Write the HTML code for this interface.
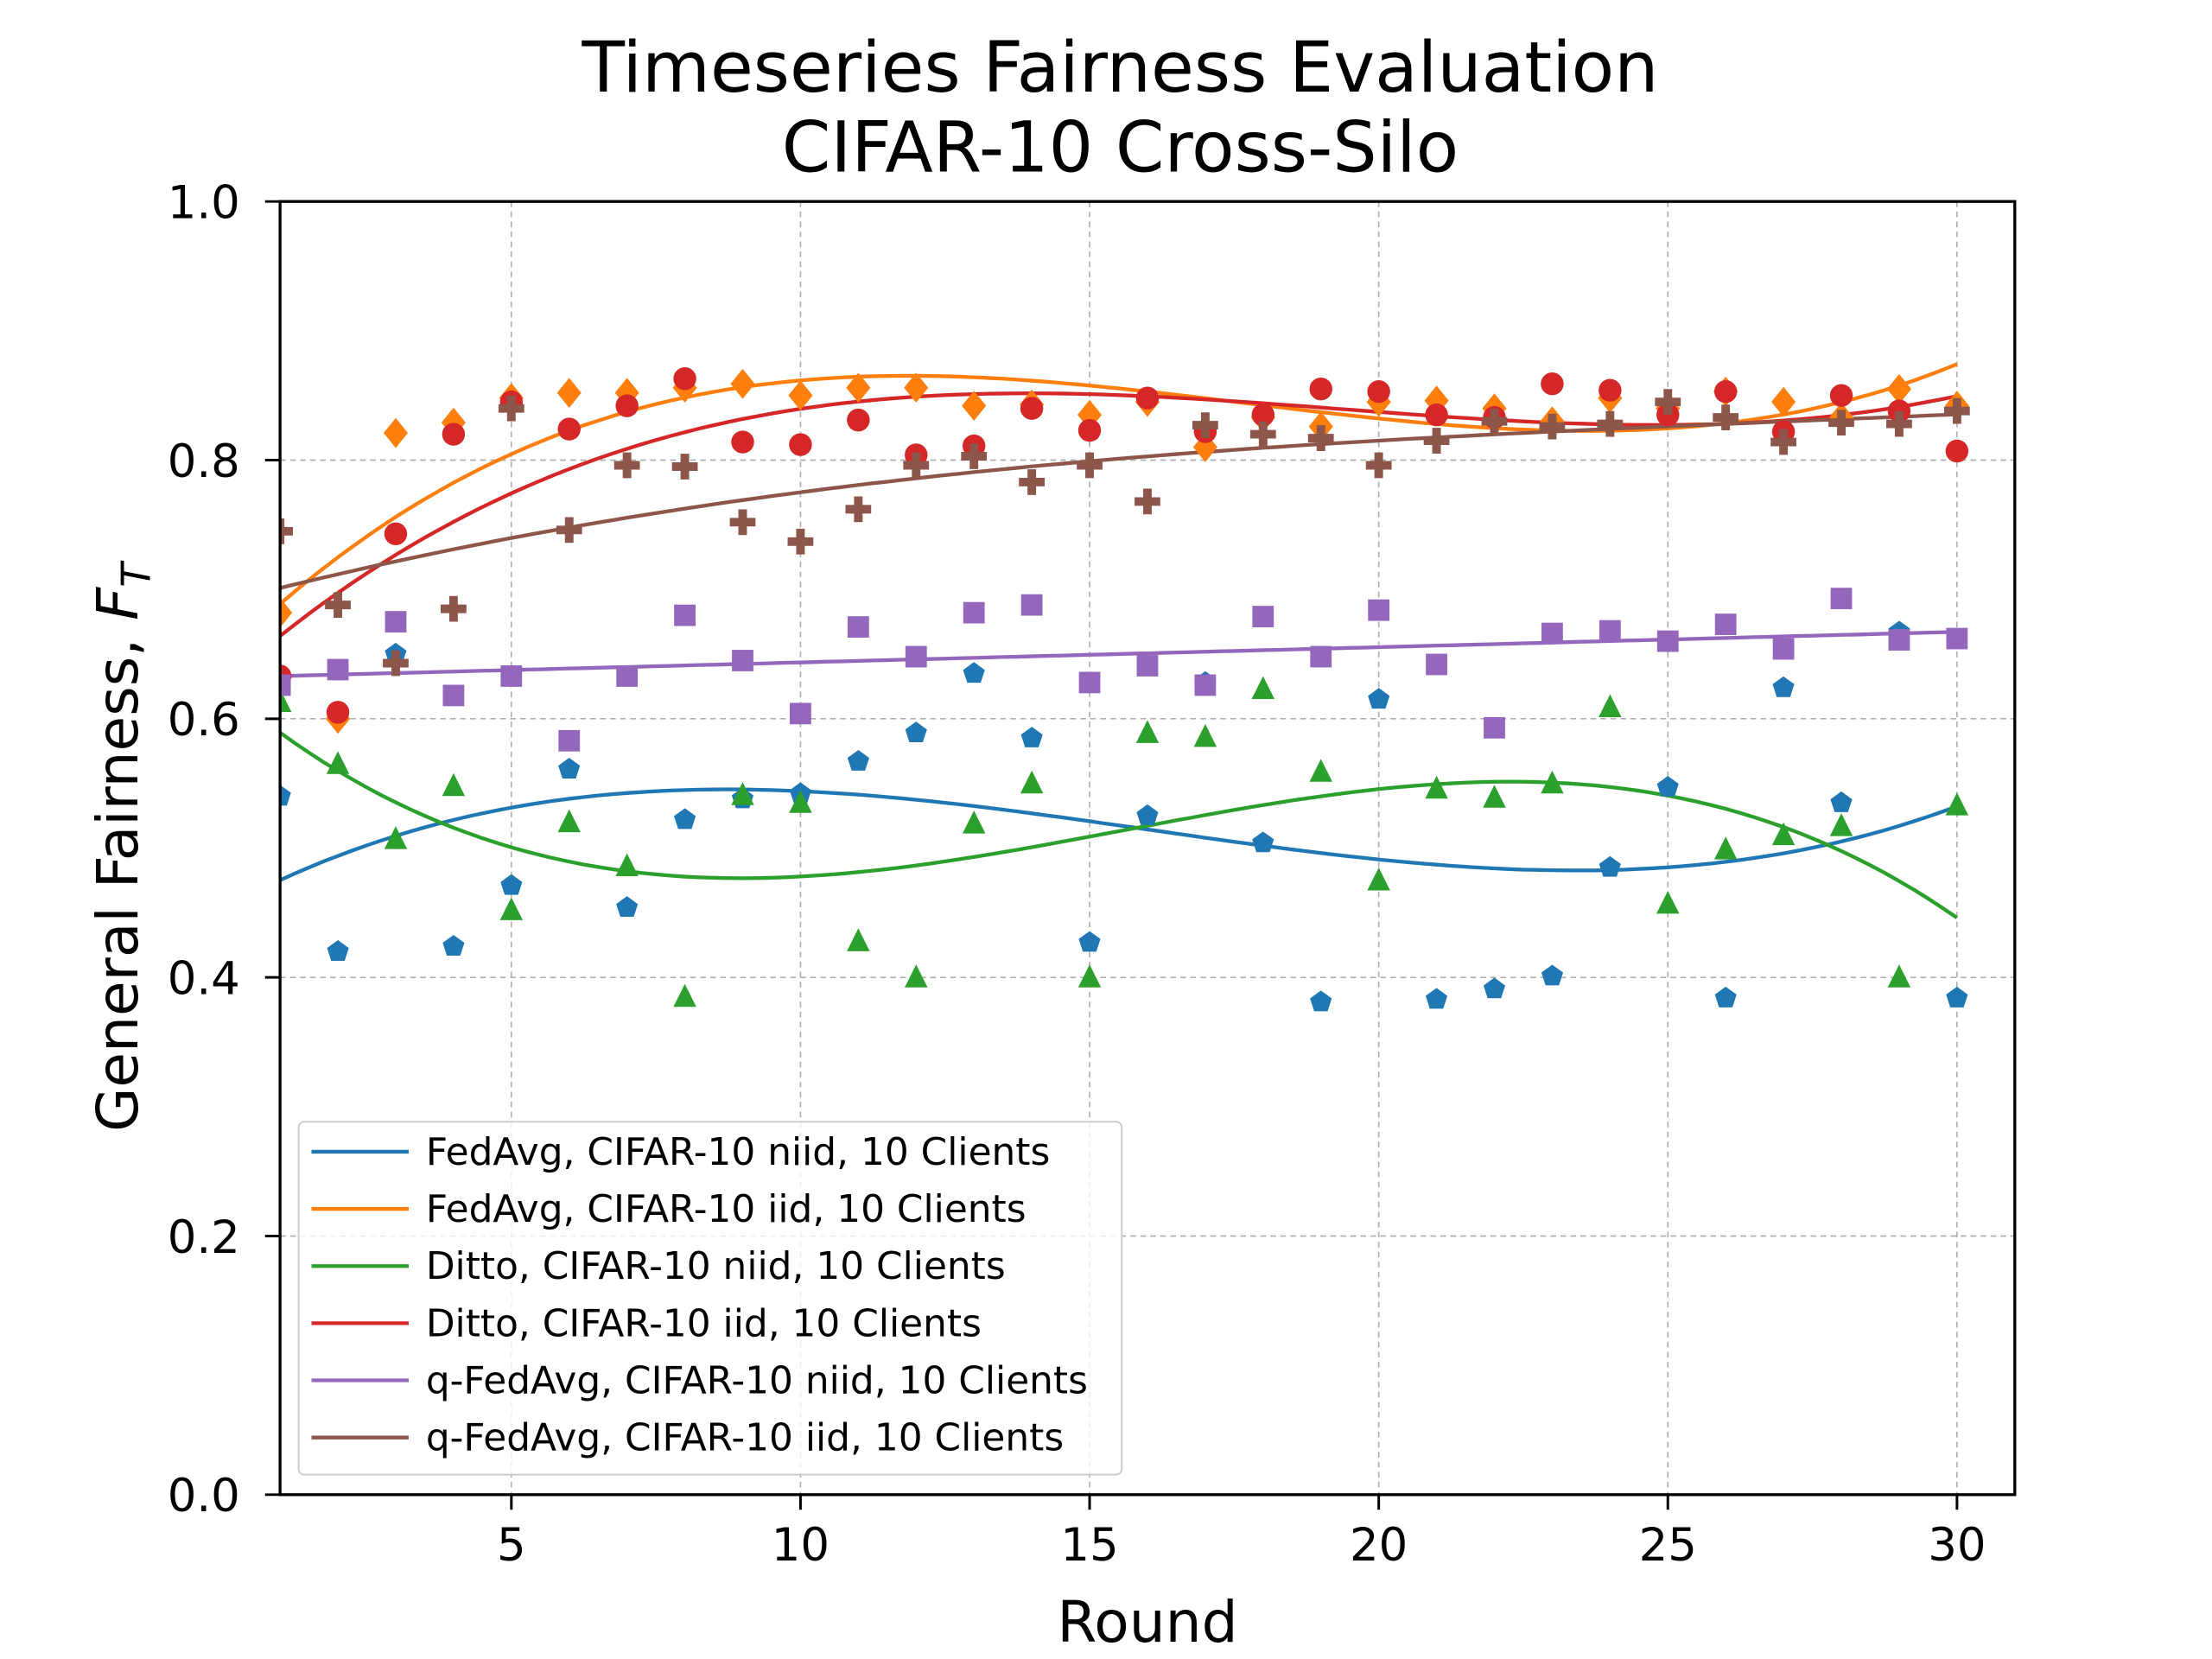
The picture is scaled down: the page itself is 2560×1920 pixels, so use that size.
<!DOCTYPE html>
<html><head><meta charset="utf-8"><style>
html,body{margin:0;padding:0;background:#fff;}
svg{display:block;font-family:"DejaVu Sans","Liberation Sans",sans-serif;}
</style></head><body>
<svg id="chart" width="2560" height="1920" viewBox="0 0 1548 1161" xmlns="http://www.w3.org/2000/svg">
<defs><clipPath id="clip"><rect x="196" y="141" width="1214" height="905"/></clipPath></defs>
<text x="784" y="64" text-anchor="middle" font-size="49">Timeseries Fairness Evaluation</text>
<text x="784" y="120" text-anchor="middle" font-size="49">CIFAR-10 Cross-Silo</text>
<g id="grid"></g>
<g id="lines" clip-path="url(#clip)"></g>
<g id="marks" clip-path="url(#clip)"></g>
<rect x="196" y="141" width="1214" height="905" fill="none" stroke="#000" stroke-width="2"/>
<g id="ticks"></g>
<text x="803" y="1149" text-anchor="middle" font-size="40">Round</text>
<text transform="translate(96,593) rotate(-90)" text-anchor="middle" font-size="40">General Fairness, <tspan font-style="italic">F</tspan><tspan font-style="italic" font-size="28" dy="9">T</tspan></text>
<g id="legend"></g>
</svg>
<script>
const rounds = Array.from({length:30},(_,i)=>i+1);
const seriesNames = ["FedAvg, CIFAR-10 niid, 10 Clients","FedAvg, CIFAR-10 iid, 10 Clients","Ditto, CIFAR-10 niid, 10 Clients","Ditto, CIFAR-10 iid, 10 Clients","q-FedAvg, CIFAR-10 niid, 10 Clients","q-FedAvg, CIFAR-10 iid, 10 Clients"];
const fedavgNiid = [0.540,0.420,0.650,0.424,0.471,0.561,0.454,0.522,0.538,0.542,0.567,0.589,0.635,0.585,0.427,0.525,0.628,0.504,0.381,0.615,0.383,0.391,0.401,0.485,0.547,0.384,0.624,0.535,0.667,0.384];
const fedavgIid = [0.682,0.600,0.821,0.829,0.848,0.852,0.852,0.856,0.859,0.850,0.856,0.856,0.842,0.843,0.835,0.845,0.810,0.833,0.826,0.845,0.846,0.840,0.830,0.848,0.840,0.853,0.845,0.833,0.855,0.842];
const dittoNiid = [0.613,0.565,0.507,0.548,0.452,0.520,0.486,0.385,0.541,0.535,0.428,0.400,0.519,0.550,0.400,0.589,0.586,0.623,0.559,0.475,0.546,0.539,0.550,0.609,0.457,0.499,0.510,0.517,0.400,0.533];
const dittoIid = [0.633,0.605,0.743,0.820,0.845,0.824,0.842,0.863,0.814,0.812,0.831,0.804,0.811,0.840,0.823,0.848,0.822,0.835,0.855,0.853,0.835,0.833,0.859,0.854,0.835,0.853,0.822,0.850,0.838,0.807];
const qfedNiid = [0.626,0.638,0.675,0.618,0.633,0.583,0.633,0.680,0.645,0.604,0.671,0.648,0.682,0.688,0.628,0.641,0.626,0.679,0.648,0.684,0.642,0.593,0.666,0.668,0.660,0.673,0.654,0.693,0.661,0.662];
const qfedIid = [0.745,0.688,0.643,0.685,0.840,0.746,0.796,0.795,0.752,0.737,0.762,0.796,0.803,0.783,0.796,0.768,0.827,0.820,0.817,0.796,0.815,0.830,0.826,0.828,0.845,0.833,0.814,0.829,0.828,0.838];
const xTicks = [5,10,15,20,25,30];
const yTicks = [0.0,0.2,0.4,0.6,0.8,1.0];

const allSeries=[fedavgNiid,fedavgIid,dittoNiid,dittoIid,qfedNiid,qfedIid];
const colors=["#1f77b4","#ff7f0e","#2ca02c","#d62728","#9467bd","#8c564b"];
const shapes=["pentagon","diamond","triangle","circle","square","plus"];
const fitDeg=[3,3,3,3,1,3];
const X0=196,X1=1410,Y0=1046,Y1=141;
const xs=v=>X0+(v-1)/(31-1)*(X1-X0);
const ys=v=>Y0-v*(Y0-Y1);
const NS="http://www.w3.org/2000/svg";
function mk(tag,attrs,parent){const e=document.createElementNS(NS,tag);for(const k in attrs)e.setAttribute(k,attrs[k]);parent.appendChild(e);return e;}
const grid=document.getElementById('grid'),ticks=document.getElementById('ticks');
xTicks.forEach(t=>{const x=xs(t);
 const g=mk('line',{x1:x,x2:x,y1:Y1,y2:Y0,stroke:'#b0b0b0','stroke-width':1,'stroke-dasharray':'4,3'},grid);
 
 const tk=mk('line',{x1:x,x2:x,y1:Y0,y2:Y0+10.5,stroke:'#000','stroke-width':1.8},ticks);
 
 const tl=mk('text',{x:x,y:Y0+46,'text-anchor':'middle','font-size':32},ticks);tl.textContent=t;
 });
yTicks.forEach(t=>{const y=ys(t);
 if(t>0&&t<1){const g=mk('line',{x1:X0,x2:X1,y1:y,y2:y,stroke:'#b0b0b0','stroke-width':1,'stroke-dasharray':'4,3'},grid);
 }
 const tk=mk('line',{x1:X0-10.5,x2:X0,y1:y,y2:y,stroke:'#000','stroke-width':1.8},ticks);
 
 const tl=mk('text',{x:X0-28,y:y+11.7,'text-anchor':'end','font-size':32},ticks);tl.textContent=t.toFixed(1);
 });
function polyfit(xv,yv,d){const n=d+1;const A=[];for(let i=0;i<n;i++){A.push(new Array(n+1).fill(0));}
 const u=xv.map(x=>(x-15.5)/14.5);
 for(let k=0;k<u.length;k++){for(let i=0;i<n;i++){for(let j=0;j<n;j++)A[i][j]+=Math.pow(u[k],i+j);A[i][n]+=Math.pow(u[k],i)*yv[k];}}
 for(let i=0;i<n;i++){let p=i;for(let r=i+1;r<n;r++)if(Math.abs(A[r][i])>Math.abs(A[p][i]))p=r;[A[i],A[p]]=[A[p],A[i]];
  for(let r=0;r<n;r++){if(r===i)continue;const f=A[r][i]/A[i][i];for(let c=i;c<=n;c++)A[r][c]-=f*A[i][c];}}
 const c=A.map((row,i)=>row[n]/row[i]);
 return x=>{const uu=(x-15.5)/14.5;let s=0;for(let i=0;i<n;i++)s+=c[i]*Math.pow(uu,i);return s;};}
const lines=document.getElementById('lines'),marks=document.getElementById('marks');
allSeries.forEach((data,si)=>{const col=colors[si];
 const f=polyfit(rounds,data,fitDeg[si]);
 let d='';for(let x=1;x<=30.001;x+=0.25)d+=(d?'L':'M')+xs(x).toFixed(1)+','+ys(f(x)).toFixed(1);
 const p=mk('path',{d:d,fill:'none',stroke:col,'stroke-width':2.6},lines);
 
 data.forEach((v,i)=>{const cx=xs(rounds[i]),cy=ys(v);let e;
  if(shapes[si]==='circle')e=mk('circle',{cx:cx,cy:cy,r:8,fill:col},marks);
  else if(shapes[si]==='square')e=mk('rect',{x:cx-7.5,y:cy-7.5,width:15,height:15,fill:col},marks);
  else if(shapes[si]==='diamond')e=mk('polygon',{points:`${cx},${cy-10.5} ${cx+8.5},${cy} ${cx},${cy+10.5} ${cx-8.5},${cy}`,fill:col},marks);
  else if(shapes[si]==='triangle')e=mk('polygon',{points:`${cx},${cy-9} ${cx+8},${cy+7} ${cx-8},${cy+7}`,fill:col},marks);
  else if(shapes[si]==='pentagon'){let pts=[];for(let k=0;k<5;k++){const a=-Math.PI/2+k*2*Math.PI/5;pts.push((cx+8*Math.cos(a)).toFixed(1)+','+(cy+8*Math.sin(a)).toFixed(1));}e=mk('polygon',{points:pts.join(' '),fill:col},marks);}
  else {e=mk('path',{d:`M${cx-3},${cy-9}h6v6h6v6h-6v6h-6v-6h-6v-6h6z`,fill:col},marks);}
  
  });});
const lg=document.getElementById('legend');
const box=mk('rect',{x:209,y:785,width:576,height:247,rx:4,fill:'#fff','fill-opacity':0.8,stroke:'#ccc','stroke-width':1.2},lg);

seriesNames.forEach((nm,i)=>{const y=806+i*40;
 const l=mk('line',{x1:218,x2:286,y1:y,y2:y,stroke:colors[i],'stroke-width':2.6},lg);
 
 const t=mk('text',{x:298,y:y+9,'font-size':26.5},lg);t.textContent=nm;
 });
</script>
</body></html>
